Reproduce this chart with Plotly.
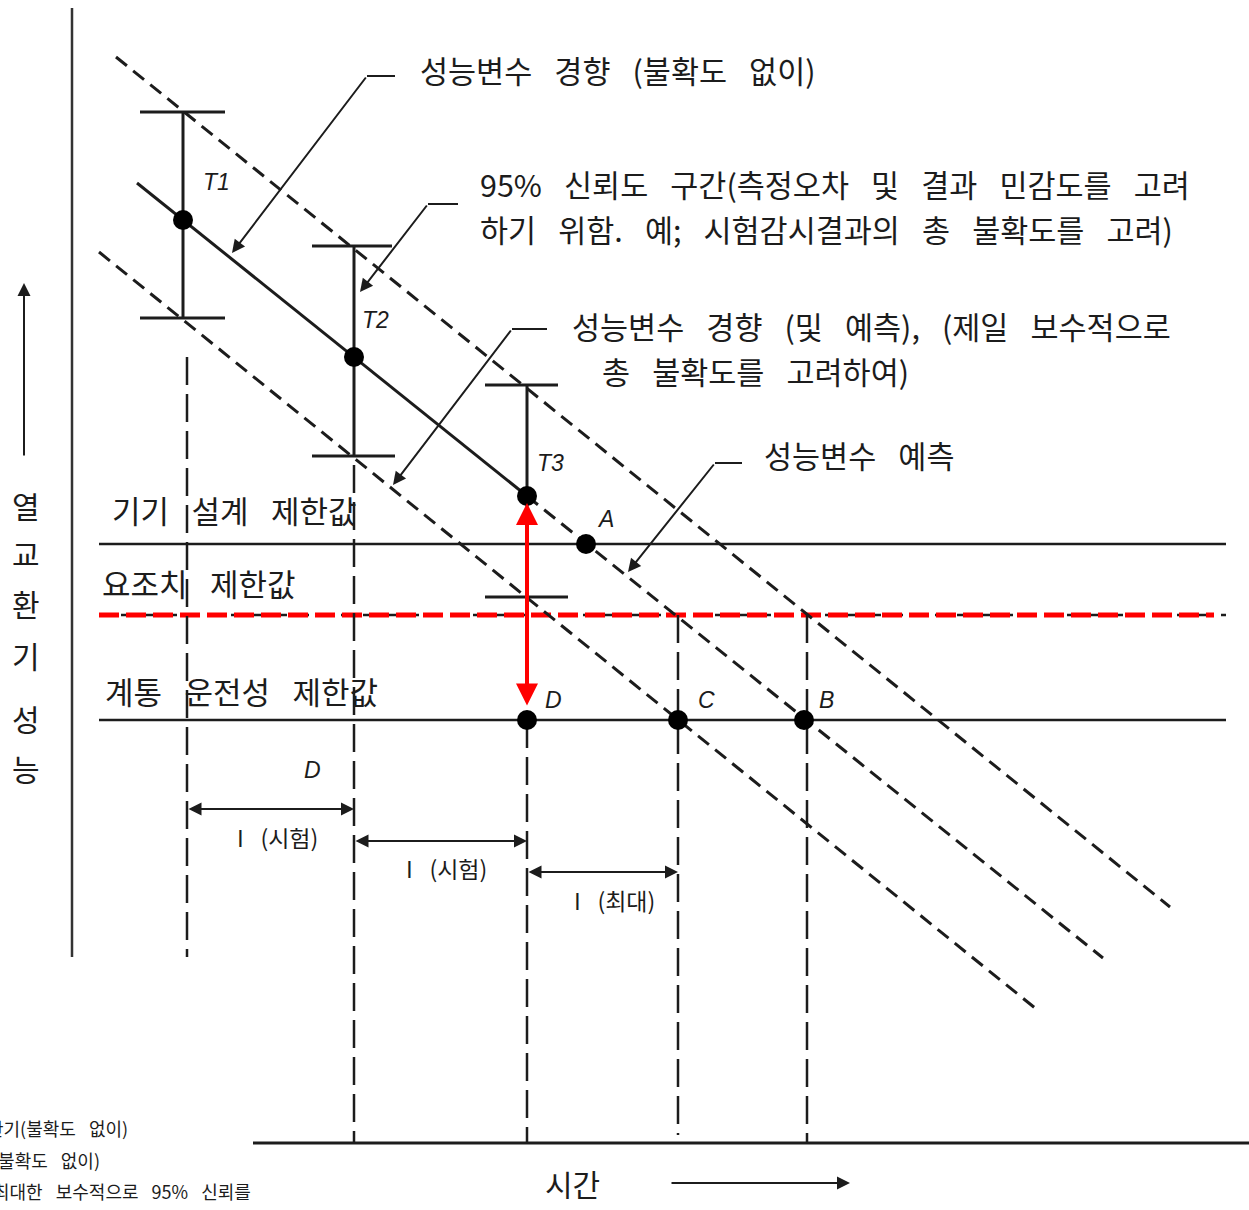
import plotly.graph_objects as go

# ---------------- data (chart units: time → x, performance → y) ----------------
# periodic test results
test_t = [183, 354, 527]
test_p = [990, 853, 714]
test_hi = [1098, 964, 825]          # upper end of 95 % confidence interval
test_lo = [892, 754, 613]           # lower end of 95 % confidence interval
cap_l = [140, 312, 485]
cap_r_hi = [225, 392, 558]
cap_r_lo = [225, 395, 568]
test_names = ["T1", "T2", "T3"]
test_name_t = [216, 375, 550]
test_name_p = [1028, 890, 747]

# limit levels
lim_design = 666
lim_alert = 595
lim_system = 490
lim_t = [99, 1226]
alert_red_t = [99, 1214]

# trend / prediction lines
trend_t = [137, 527]
trend_p = [1027, 714]
pred_t = [527, 1103]
pred_p = [714, 252]
upper_t = [116, 1170]
upper_p = [1153, 303]
lower_t = [99, 1035]
lower_p = [958, 202]

# crossing points
pt_names = ["A", "D", "C", "B"]
pt_t = [586, 527, 678, 804]
pt_p = [666, 490, 490, 490]
pt_name_t = [605, 553, 706, 826]
pt_name_p = [691, 510, 510, 510]

# vertical guide lines
guide_t = [187, 354, 527, 678, 807]
guide_top = [853, 745, 490, 595, 595]
guide_bot = [253, 67, 67, 75, 67]

# test intervals
iv_start = [187, 354, 527]
iv_end = [354, 527, 678]
iv_p = [401, 369, 338]
iv_text = ["I (시험)", "I (시험)", "I (최대)"]
iv_text_t = [277, 446, 614]
iv_text_p = [373, 342, 310]

# call-outs: elbow start, elbow end, arrow tip, text lines
co_elbow_t = [367, 428, 512, 715]
co_elbow_t2 = [395, 458, 547, 742]
co_elbow_p = [1134, 1006, 881, 747]
co_tip_t = [232, 360, 393, 628]
co_tip_p = [957, 918, 725, 638]
co_lines = [
    [("성능변수 경향 (불확도 없이)", 418, 1140)],
    [("95% 신뢰도 구간(측정오차 및 결과 민감도를 고려", 478, 1026),
     ("하기 위함. 예; 시험감시결과의 총 불확도를 고려)", 478, 981)],
    [("성능변수 경향 (및 예측), (제일 보수적으로", 570, 884),
     ("총 불확도를 고려하여)", 600, 839)],
    [("성능변수 예측", 762, 755)],
]

limit_labels = ["기기 설계 제한값", "요조치 제한값", "계통 운전성 제한값"]
limit_label_t = [110, 100, 103]
limit_label_p = [701, 628, 520]

y_title_chars = ["열", "교", "환", "기", "성", "능"]
y_title_p = [705, 657, 607, 555, 492, 442]

notes = ["한기(불확도 없이)", "(불확도 없이)", "최대한 보수적으로 95% 신뢰를"]
notes_right = [130, 102, 253]
notes_p = [82, 50, 19]

KR = "Noto Sans CJK KR"
LAT = "Liberation Sans"
INK = "#1c1c1c"


def spaced(s, gap="\u2002\u00a0"):
    return s.replace(" ", gap)


fig = go.Figure()


def seg(xs, ys, width=3, dash="solid", color=INK):
    fig.add_trace(go.Scatter(x=xs, y=ys, mode="lines", hoverinfo="skip",
                             line=dict(color=color, width=width, dash=dash)))


# axes of the sketch
seg([72, 72], [1202, 253], width=2.5, color="#333")
seg([253, 1249], [67, 67], width=3)

# limit lines
seg(lim_t, [lim_design] * 2, width=2.5)
seg(lim_t, [lim_system] * 2, width=2.5)
seg(lim_t, [lim_alert] * 2, width=2.5, dash="12px,10px")
seg(alert_red_t, [lim_alert] * 2, width=5, dash="20px,7px", color="#ff0000")

# vertical guides
for t, a, b in zip(guide_t, guide_top, guide_bot):
    seg([t, t], [a, b], width=2.5, dash="28px,9px")

# confidence bands and trend
seg(upper_t, upper_p, width=3, dash="14px,8px")
seg(lower_t, lower_p, width=3, dash="14px,8px")
seg(pred_t, pred_p, width=3, dash="14px,8px")
seg(trend_t, trend_p, width=3)

# error bars
for t, hi, lo, cl, crh, crl in zip(test_t, test_hi, test_lo, cap_l, cap_r_hi, cap_r_lo):
    seg([t, t], [hi, lo], width=3)
    seg([cl, crh], [hi, hi], width=3)
    seg([cl, crl], [lo, lo], width=3)

# call-out elbows
for a, b, p in zip(co_elbow_t, co_elbow_t2, co_elbow_p):
    seg([a, b], [p, p], width=2)

# points
fig.add_trace(go.Scatter(x=test_t + pt_t, y=test_p + pt_p, mode="markers",
                         hoverinfo="skip",
                         marker=dict(color="#000", size=20, line=dict(width=0))))

ann = []


def arrow(x, y, ax, ay, width=2, size=1.0, color=INK, both=False, head=2):
    d = dict(x=x, y=y, ax=ax, ay=ay, xref="x", yref="y", axref="x", ayref="y",
             text="", showarrow=True, arrowhead=head, arrowsize=size,
             arrowwidth=width, arrowcolor=color, standoff=0, startstandoff=0)
    if both:
        d.update(arrowside="end+start", startarrowhead=head, startarrowsize=size)
    ann.append(d)


def label(txt, x, y, size, family=KR, xanchor="left", color=INK):
    ann.append(dict(x=x, y=y, xref="x", yref="y", text=txt, showarrow=False,
                    xanchor=xanchor, yanchor="middle",
                    font=dict(family=family, size=size, color=color)))


# call-out arrows and texts
for a, p, tt, tp, lines in zip(co_elbow_t, co_elbow_p, co_tip_t, co_tip_p, co_lines):
    arrow(tt, tp, a, p, width=2, size=1.3)
    for txt, x, y in lines:
        label(spaced(txt), x, y, 30.5)

# red margin arrow between T3 and D
arrow(527, 707, 527, 503, width=4, size=1.1, color="#ff0000", both=True)

# test interval arrows
for s, e, p in zip(iv_start, iv_end, iv_p):
    arrow(e, p, s, p, width=2, size=1.3, both=True)
for txt, x, y in zip(iv_text, iv_text_t, iv_text_p):
    label(spaced(txt), x, y, 23, xanchor="center")

# letter labels
for txt, x, y in zip(test_names + pt_names, test_name_t + pt_name_t, test_name_p + pt_name_p):
    label("<i>%s</i>" % txt, x, y, 23, family=LAT, xanchor="center")
label("<i>D</i>", 312, 440, 23, family=LAT, xanchor="center")

# limit names
for txt, x, y in zip(limit_labels, limit_label_t, limit_label_p):
    label(spaced(txt), x, y, 31)

# axis titles
for ch, y in zip(y_title_chars, y_title_p):
    label(ch, 26, y, 30, xanchor="center")
arrow(24, 927, 24, 753, width=2, size=1.3)
label("시간", 572, 27, 30, xanchor="center")
arrow(850, 27, 670, 27, width=2, size=1.3)

# footnotes
for txt, x, y in zip(notes, notes_right, notes_p):
    label(spaced(txt), x, y, 18, xanchor="right")

fig.update_layout(
    width=1249, height=1210,
    margin=dict(l=0, r=0, t=0, b=0),
    paper_bgcolor="white", plot_bgcolor="white",
    showlegend=False,
    xaxis=dict(range=[0, 1249], visible=False, fixedrange=True),
    yaxis=dict(range=[0, 1210], visible=False, fixedrange=True),
    annotations=ann,
)

fig.write_html("out.html")
